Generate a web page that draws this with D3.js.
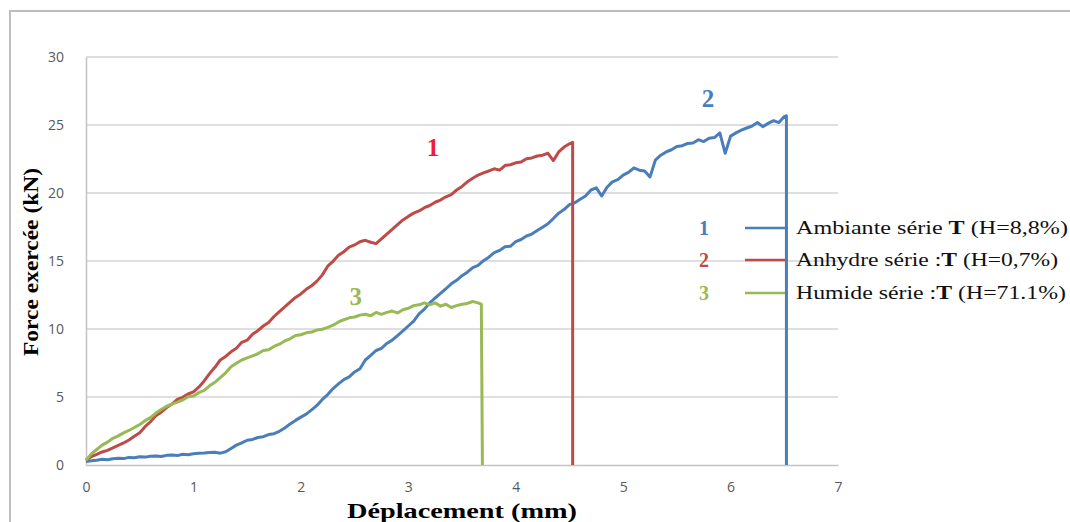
<!DOCTYPE html>
<html>
<head>
<meta charset="utf-8">
<script src="https://cdn.jsdelivr.net/npm/d3@7"></script>
<style>
  body { margin: 0; background: #fff; }
  svg { display: block; }
</style>
</head>
<body>
<script>
// Displacement (mm), force (kN)
const ambiante = [
  [0.00,0.25],[0.05,0.32],[0.10,0.35],[0.15,0.42],[0.20,0.38],[0.25,0.46],[0.30,0.50],[0.35,0.47],
  [0.40,0.56],[0.45,0.54],[0.50,0.61],[0.55,0.58],[0.60,0.64],[0.65,0.66],[0.70,0.62],[0.75,0.71],
  [0.80,0.73],[0.85,0.69],[0.90,0.79],[0.95,0.76],[1.00,0.83],[1.05,0.86],[1.10,0.88],[1.15,0.92],
  [1.20,0.93],[1.25,0.87],[1.30,0.97],[1.35,1.22],[1.40,1.46],[1.45,1.63],[1.50,1.82],[1.55,1.88],
  [1.60,2.02],[1.65,2.08],[1.70,2.24],[1.75,2.30],[1.80,2.48],[1.85,2.72],[1.90,3.02],[1.95,3.28],
  [2.00,3.52],[2.05,3.74],[2.10,4.05],[2.15,4.38],[2.20,4.82],[2.25,5.18],[2.30,5.62],[2.35,5.96],
  [2.40,6.28],[2.45,6.48],[2.50,6.84],[2.55,7.08],[2.60,7.72],[2.65,8.06],[2.70,8.42],[2.75,8.58],
  [2.80,8.94],[2.85,9.18],[2.90,9.52],[2.95,9.86],[3.00,10.22],[3.05,10.58],[3.10,11.12],[3.15,11.46],
  [3.20,11.92],[3.25,12.28],[3.30,12.62],[3.35,12.96],[3.40,13.32],[3.45,13.58],[3.50,13.92],[3.55,14.18],
  [3.60,14.52],[3.65,14.68],[3.70,15.02],[3.75,15.28],[3.80,15.62],[3.85,15.78],[3.90,16.04],[3.95,16.08],
  [4.00,16.42],[4.05,16.58],[4.10,16.84],[4.15,16.98],[4.20,17.24],[4.25,17.48],[4.30,17.74],[4.35,18.12],
  [4.40,18.52],[4.45,18.78],[4.50,19.14],[4.55,19.28],[4.60,19.54],[4.65,19.78],[4.70,20.22],[4.75,20.38],
  [4.80,19.78],[4.85,20.42],[4.90,20.82],[4.95,20.98],[5.00,21.32],[5.05,21.52],[5.10,21.84],[5.15,21.68],
  [5.20,21.62],[5.25,21.18],[5.30,22.42],[5.35,22.78],[5.40,23.02],[5.45,23.18],[5.50,23.42],[5.55,23.48],
  [5.60,23.64],[5.65,23.68],[5.70,23.92],[5.75,23.78],[5.80,24.02],[5.85,24.08],[5.90,24.42],[5.95,22.92],
  [6.00,24.18],[6.05,24.42],[6.10,24.62],[6.15,24.78],[6.20,24.92],[6.25,25.18],[6.30,24.88],[6.35,25.12],
  [6.40,25.32],[6.45,25.18],[6.50,25.62],[6.52,25.68],[6.52,0]
];
const anhydre = [
  [0.00,0.35],[0.05,0.62],[0.10,0.78],[0.15,0.96],[0.20,1.08],[0.25,1.26],[0.30,1.44],[0.35,1.62],
  [0.40,1.84],[0.45,2.12],[0.50,2.38],[0.55,2.82],[0.60,3.18],[0.65,3.62],[0.70,3.88],[0.75,4.22],
  [0.80,4.48],[0.85,4.82],[0.90,4.98],[0.95,5.22],[1.00,5.38],[1.05,5.72],[1.10,6.18],[1.15,6.72],
  [1.20,7.18],[1.25,7.72],[1.30,7.98],[1.35,8.32],[1.40,8.58],[1.45,9.02],[1.50,9.18],[1.55,9.62],
  [1.60,9.88],[1.65,10.22],[1.70,10.48],[1.75,10.92],[1.80,11.28],[1.85,11.62],[1.90,11.98],[1.95,12.32],
  [2.00,12.58],[2.05,12.92],[2.10,13.18],[2.15,13.52],[2.20,13.98],[2.25,14.62],[2.30,14.98],[2.35,15.42],
  [2.40,15.68],[2.45,16.02],[2.50,16.18],[2.55,16.42],[2.60,16.52],[2.65,16.38],[2.70,16.28],[2.75,16.62],
  [2.80,16.98],[2.85,17.32],[2.90,17.68],[2.95,18.02],[3.00,18.28],[3.05,18.52],[3.10,18.68],[3.15,18.92],
  [3.20,19.08],[3.25,19.32],[3.30,19.48],[3.35,19.72],[3.40,19.88],[3.45,20.22],[3.50,20.48],[3.55,20.82],
  [3.60,21.08],[3.65,21.32],[3.70,21.48],[3.75,21.62],[3.80,21.78],[3.85,21.68],[3.90,22.02],[3.95,22.08],
  [4.00,22.22],[4.05,22.28],[4.10,22.52],[4.15,22.58],[4.20,22.72],[4.25,22.78],[4.30,22.92],[4.35,22.38],
  [4.40,23.02],[4.45,23.38],[4.50,23.62],[4.53,23.72],[4.53,0]
];
const humide = [
  [0.00,0.35],[0.05,0.82],[0.10,1.14],[0.15,1.46],[0.20,1.68],[0.25,1.96],[0.30,2.14],[0.35,2.36],
  [0.40,2.54],[0.45,2.76],[0.50,2.98],[0.55,3.26],[0.60,3.48],[0.65,3.82],[0.70,4.08],[0.75,4.32],
  [0.80,4.48],[0.85,4.62],[0.90,4.78],[0.95,5.02],[1.00,5.08],[1.05,5.32],[1.10,5.48],[1.15,5.82],
  [1.20,6.08],[1.25,6.42],[1.30,6.78],[1.35,7.22],[1.40,7.48],[1.45,7.72],[1.50,7.88],[1.55,8.02],
  [1.60,8.18],[1.65,8.42],[1.70,8.48],[1.75,8.72],[1.80,8.88],[1.85,9.12],[1.90,9.28],[1.95,9.52],
  [2.00,9.58],[2.05,9.72],[2.10,9.78],[2.15,9.92],[2.20,9.98],[2.25,10.12],[2.30,10.28],[2.35,10.52],
  [2.40,10.68],[2.45,10.82],[2.50,10.88],[2.55,11.02],[2.60,11.08],[2.65,10.98],[2.70,11.22],[2.75,11.08],
  [2.80,11.22],[2.85,11.32],[2.90,11.18],[2.95,11.42],[3.00,11.52],[3.05,11.72],[3.10,11.78],[3.15,11.92],
  [3.20,11.78],[3.25,11.92],[3.30,11.68],[3.35,11.82],[3.40,11.58],[3.45,11.72],[3.50,11.82],[3.55,11.88],
  [3.60,12.02],[3.65,11.92],[3.68,11.82],[3.69,0]
];

const xTicks = [0, 1, 2, 3, 4, 5, 6, 7];
const yTicks = [0, 5, 10, 15, 20, 25, 30];

const series = [
  {data: ambiante, color: "#4a7ebb", num: "1", label: "Ambiante série ", h: " (H=8,8%)"},
  {data: anhydre,  color: "#be4b48", num: "2", label: "Anhydre série :", h: " (H=0,7%)"},
  {data: humide,   color: "#98b954", num: "3", label: "Humide série :", h: " (H=71.1%)"}
];

const W = 1070, H = 522;
const svg = d3.select("body").append("svg")
  .attr("width", W)
  .attr("height", H);

// chart area border
svg.append("rect")
  .attr("x", 10).attr("y", 11)
  .attr("width", W + 20).attr("height", H + 20)
  .attr("fill", "#fff")
  .attr("stroke", "#bdbdbd")
  .attr("stroke-width", 2);

const x = d3.scaleLinear().domain([0, 7]).range([86, 838]);
const y = d3.scaleLinear().domain([0, 30]).range([465, 57]);

// gridlines
svg.append("g")
  .selectAll("line")
  .data(yTicks.filter(d => d > 0))
  .join("line")
  .attr("x1", x(0)).attr("x2", x(7))
  .attr("y1", d => y(d)).attr("y2", d => y(d))
  .attr("stroke", "#d4d4d4")
  .attr("stroke-width", 1.5);

// Y axis
const yAxis = svg.append("g")
  .attr("transform", `translate(${x(0)},0)`)
  .call(d3.axisLeft(y).tickValues(yTicks).tickSize(0).tickPadding(22));
yAxis.select(".domain").attr("stroke", "#c4c4c4").attr("stroke-width", 1.5);
yAxis.selectAll("text")
  .attr("fill", "#595959")
  .style("font-family", "'Open Sans', sans-serif")
  .style("font-size", "14px");

// X axis
const xAxis = svg.append("g")
  .attr("transform", `translate(0,${y(0)})`)
  .call(d3.axisBottom(x).tickValues(xTicks).tickFormat(d3.format("d")).tickSize(0).tickPadding(17));
xAxis.select(".domain").attr("stroke", "#c4c4c4").attr("stroke-width", 1.5);
xAxis.selectAll("text")
  .attr("fill", "#595959")
  .style("font-family", "'Open Sans', sans-serif")
  .style("font-size", "14px");

// axis titles
svg.append("text")
  .attr("transform", `translate(38,262) rotate(-90)`)
  .attr("text-anchor", "middle")
  .attr("textLength", 188)
  .attr("lengthAdjust", "spacingAndGlyphs")
  .style("font-family", "'Liberation Serif', serif")
  .style("font-weight", "bold")
  .style("font-size", "20px")
  .text("Force exercée (kN)");

svg.append("text")
  .attr("x", 462).attr("y", 518)
  .attr("text-anchor", "middle")
  .attr("textLength", 230)
  .attr("lengthAdjust", "spacingAndGlyphs")
  .style("font-family", "'Liberation Serif', serif")
  .style("font-weight", "bold")
  .style("font-size", "21px")
  .text("Déplacement (mm)");

// legend
const legendY = [228, 260, 293];
const legendLen = [272, 262, 270];
const lg = svg.append("g");
series.forEach((s, i) => {
  lg.append("text")
    .attr("x", 704).attr("y", legendY[i] + 7)
    .attr("text-anchor", "middle")
    .attr("fill", s.color)
    .style("font-family", "'Liberation Serif', serif")
    .style("font-weight", "bold")
    .style("font-size", "20px")
    .text(s.num);
  lg.append("line")
    .attr("x1", 745).attr("x2", 788)
    .attr("y1", legendY[i]).attr("y2", legendY[i])
    .attr("stroke", s.color)
    .attr("stroke-width", 2.5);
  const t = lg.append("text")
    .attr("x", 796).attr("y", legendY[i] + 6)
    .attr("fill", "#111")
    .style("font-family", "'Liberation Serif', serif")
    .style("font-size", "18px")
    .attr("textLength", legendLen[i])
    .attr("lengthAdjust", "spacingAndGlyphs");
  t.append("tspan").text(s.label);
  t.append("tspan").style("font-weight", "bold").text("T");
  t.append("tspan").text(s.h);
});

// curves
const line = d3.line()
  .x(d => x(d[0]))
  .y(d => y(d[1]));

svg.append("g")
  .selectAll("path")
  .data(series)
  .join("path")
  .attr("d", d => line(d.data))
  .attr("fill", "none")
  .attr("stroke", d => d.color)
  .attr("stroke-width", 3)
  .attr("stroke-linejoin", "round");

// curve numbers
const curveLabels = [
  {text: "1", at: [3.23, 22.7], color: "#f01a3c"},
  {text: "2", at: [5.79, 26.3], color: "#4a7ebb"},
  {text: "3", at: [2.51, 11.8], color: "#98b954"}
];
svg.append("g")
  .selectAll("text")
  .data(curveLabels)
  .join("text")
  .attr("x", d => x(d.at[0]))
  .attr("y", d => y(d.at[1]))
  .attr("text-anchor", "middle")
  .attr("fill", d => d.color)
  .style("font-family", "'Liberation Serif', serif")
  .style("font-weight", "bold")
  .style("font-size", "25px")
  .text(d => d.text);
</script>
</body>
</html>
